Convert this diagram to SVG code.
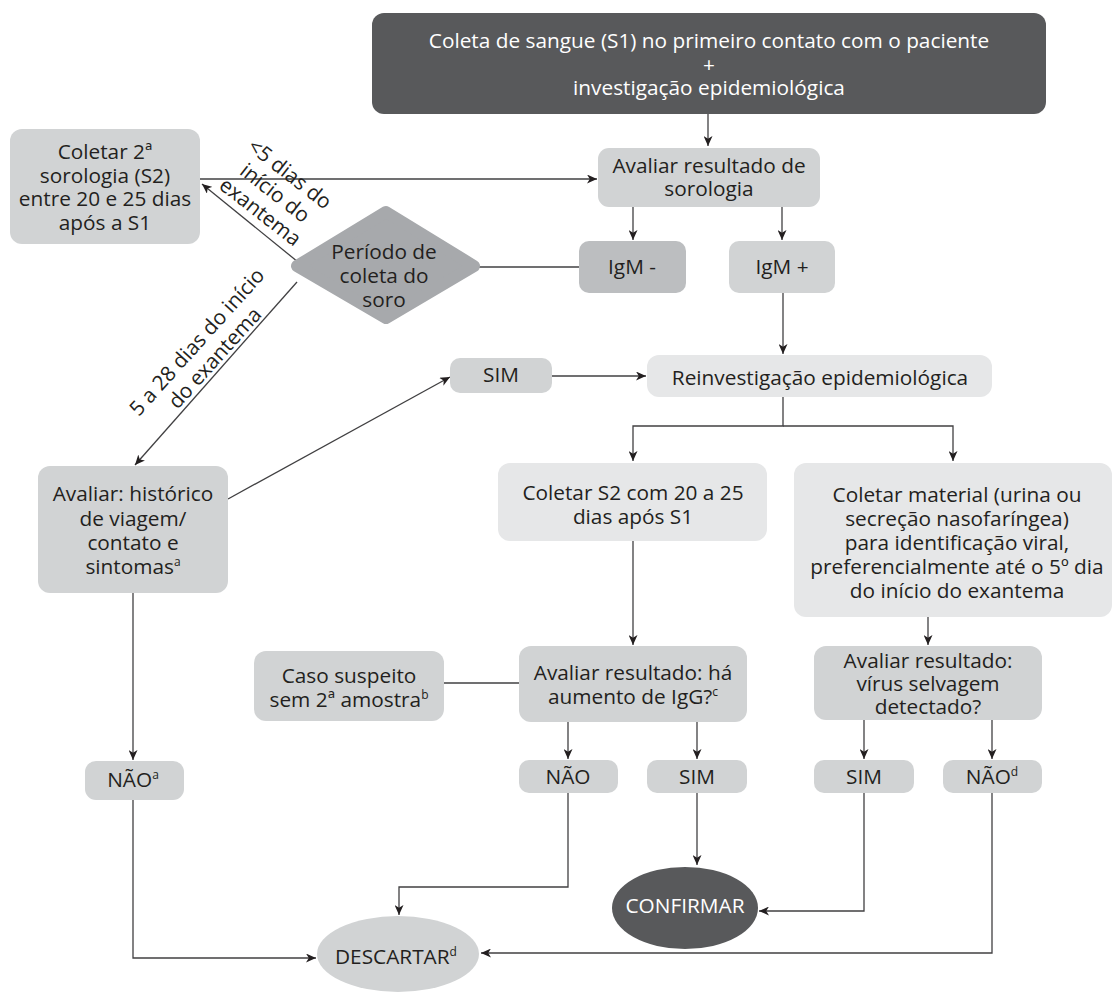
<svg xmlns="http://www.w3.org/2000/svg" width="1112" height="994" viewBox="0 0 1112 994">
<defs>
<marker id="ah" markerUnits="userSpaceOnUse" markerWidth="11" markerHeight="9" refX="10" refY="4.5" orient="auto">
<path d="M0,0 L10,4.5 L0,9 L2.8,4.5 z" fill="#231f20"/>
</marker>
<style>
text{font-family:"Open Sans","Noto Sans","Liberation Sans",sans-serif;font-size:20.8px;fill:#231f20;text-anchor:middle}
.w{fill:#ffffff}
.dark{fill:#58595b}
.mid{fill:#d1d3d4}
.light{fill:#e6e7e8}
.igmn{fill:#bcbec0}
.sup{font-size:12px;baseline-shift:super}
.c path{fill:none;stroke:#414042;stroke-width:1.3}
.c .a{marker-end:url(#ah)}
</style>
</defs>
<rect width="1112" height="994" fill="#ffffff"/>

<g id="connectors" class="c">
<path class="a" d="M708,114 V146"/>
<path class="a" d="M200,179 H597"/>
<path class="a" d="M633,207 V240"/>
<path class="a" d="M782,207 V240"/>
<path d="M478,267 H579"/>
<path class="a" d="M298,262 L202,184"/>
<path class="a" d="M297,282 L135,465"/>
<path class="a" d="M228,499 L450,377"/>
<path class="a" d="M552,376 H646"/>
<path class="a" d="M783,293 V354"/>
<path class="a" d="M783,397 V426 H633 V461"/>
<path class="a" d="M783,426 H953 V461"/>
<path class="a" d="M633,541 V645"/>
<path class="a" d="M928,617 V645"/>
<path d="M444,683 H519"/>
<path class="a" d="M568,722 V759"/>
<path class="a" d="M697,722 V759"/>
<path class="a" d="M864,720 V759"/>
<path class="a" d="M992,720 V759"/>
<path class="a" d="M133,593 V760"/>
<path class="a" d="M133,800 V958 H316"/>
<path class="a" d="M568,793 V887 H399 V915"/>
<path class="a" d="M697,793 V865"/>
<path class="a" d="M864,793 V911 H759"/>
<path class="a" d="M992,793 V953 H481"/>
</g>

<g id="n-coleta-s1">
<rect class="dark" x="372" y="13" width="674" height="101" rx="12"/>
<text class="w" x="709" y="48">Coleta de sangue (S1) no primeiro contato com o paciente</text>
<text class="w" x="709" y="72">+</text>
<text class="w" x="709" y="95">investigação epidemiológica</text>
</g>

<g id="n-avaliar-sorologia">
<rect class="mid" x="598" y="148" width="222" height="59" rx="11"/>
<text x="709" y="173">Avaliar resultado de</text>
<text x="709" y="196">sorologia</text>
</g>

<g id="n-igm-neg">
<rect class="igmn" x="579" y="241" width="107" height="52" rx="10"/>
<text x="632" y="274">IgM -</text>
</g>

<g id="n-igm-pos">
<rect class="mid" x="729" y="241" width="106" height="52" rx="10"/>
<text x="782" y="274">IgM +</text>
</g>

<g id="n-coletar-2a">
<rect class="mid" x="10" y="129" width="190" height="115" rx="12"/>
<text x="105" y="159">Coletar 2ª</text>
<text x="105" y="183">sorologia (S2)</text>
<text x="105" y="206">entre 20 e 25 dias</text>
<text x="105" y="230">após a S1</text>
</g>

<g id="n-periodo">
<polygon points="297,266 386,212 474,266 386,318" fill="#a7a9ac" stroke="#a7a9ac" stroke-width="12" stroke-linejoin="round"/>
<text x="384" y="259">Período de</text>
<text x="384" y="283">coleta do</text>
<text x="384" y="307">soro</text>
</g>

<g id="lbl-menos5" transform="translate(275,193) rotate(38)">
<text x="0" y="-17">&lt;5 dias do</text>
<text x="0" y="7">início do</text>
<text x="0" y="31">exantema</text>
</g>

<g id="lbl-5a28" transform="translate(197,342) rotate(-48)">
<text x="0" y="7">5 a 28 dias do início</text>
<text x="0" y="31">do exantema</text>
</g>

<g id="n-sim-1">
<rect class="mid" x="450" y="358" width="102" height="35" rx="10"/>
<text x="501" y="382">SIM</text>
</g>

<g id="n-reinvestigacao">
<rect class="light" x="647" y="355" width="345" height="42" rx="12"/>
<text x="820" y="385">Reinvestigação epidemiológica</text>
</g>

<g id="n-avaliar-historico">
<rect class="mid" x="38" y="466" width="190" height="127" rx="12"/>
<text x="133" y="501">Avaliar: histórico</text>
<text x="133" y="526">de viagem/</text>
<text x="133" y="550">contato e</text>
<text x="133" y="574">sintomas<tspan class="sup">a</tspan></text>
</g>

<g id="n-coletar-s2">
<rect class="light" x="498" y="463" width="269" height="78" rx="12"/>
<text x="633" y="500">Coletar S2 com 20 a 25</text>
<text x="633" y="524">dias após S1</text>
</g>

<g id="n-coletar-material">
<rect class="light" x="794" y="463" width="318" height="154" rx="12"/>
<text x="957" y="502">Coletar material (urina ou</text>
<text x="957" y="526">secreção nasofaríngea)</text>
<text x="957" y="550">para identificação viral,</text>
<text x="957" y="574">preferencialmente até o 5º dia</text>
<text x="957" y="598">do início do exantema</text>
</g>

<g id="n-caso-suspeito">
<rect class="mid" x="254" y="651" width="190" height="70" rx="12"/>
<text x="349" y="683">Caso suspeito</text>
<text x="349" y="707">sem 2ª amostra<tspan class="sup">b</tspan></text>
</g>

<g id="n-avaliar-igg">
<rect class="mid" x="519" y="646" width="228" height="76" rx="12"/>
<text x="633" y="680">Avaliar resultado: há</text>
<text x="633" y="704">aumento de IgG?<tspan class="sup">c</tspan></text>
</g>

<g id="n-avaliar-virus">
<rect class="mid" x="814" y="646" width="228" height="74" rx="12"/>
<text x="928" y="668">Avaliar resultado:</text>
<text x="928" y="691">vírus selvagem</text>
<text x="928" y="714">detectado?</text>
</g>

<g id="n-nao-a">
<rect class="mid" x="85" y="761" width="99" height="39" rx="11"/>
<text x="133" y="787">NÃO<tspan class="sup">a</tspan></text>
</g>

<g id="n-nao-igg">
<rect class="mid" x="519" y="760" width="99" height="33" rx="10"/>
<text x="568" y="784">NÃO</text>
</g>

<g id="n-sim-igg">
<rect class="mid" x="647" y="760" width="100" height="33" rx="10"/>
<text x="697" y="784">SIM</text>
</g>

<g id="n-sim-virus">
<rect class="mid" x="814" y="760" width="100" height="33" rx="10"/>
<text x="864" y="784">SIM</text>
</g>

<g id="n-nao-d">
<rect class="mid" x="943" y="760" width="99" height="33" rx="10"/>
<text x="992" y="784">NÃO<tspan class="sup">d</tspan></text>
</g>

<g id="n-confirmar">
<ellipse class="dark" cx="685" cy="908" rx="73" ry="41"/>
<text class="w" x="685" y="913">CONFIRMAR</text>
</g>

<g id="n-descartar">
<ellipse class="mid" cx="398" cy="954" rx="81" ry="38"/>
<text x="396" y="964">DESCARTAR<tspan class="sup">d</tspan></text>
</g>
</svg>
